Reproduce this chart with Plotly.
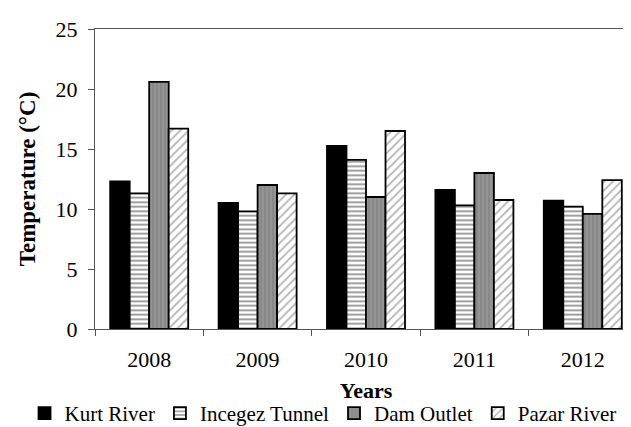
import plotly.graph_objects as go

years = ["2008", "2009", "2010", "2011", "2012"]
series_names = ["Kurt River", "Incegez Tunnel", "Dam Outlet", "Pazar River"]
kurt_river = [12.3, 10.5, 15.25, 11.6, 10.7]
incegez_tunnel = [11.3, 9.8, 14.1, 10.3, 10.2]
dam_outlet = [20.6, 12.0, 11.0, 13.0, 9.6]
pazar_river = [16.7, 11.3, 16.5, 10.75, 12.4]

FONT = "Liberation Serif"

styles = [
    dict(color="black", pattern=dict(shape="")),
    dict(color="white", pattern=dict(shape="-", fgcolor="#222", bgcolor="white", size=4.5, solidity=0.4)),
    dict(color="#8c8c8c", pattern=dict(shape="|", fgcolor="#6e6e6e", bgcolor="#949494", size=4, solidity=0.3)),
    dict(color="white", pattern=dict(shape="/", fgcolor="#666", bgcolor="white", size=6, solidity=0.3)),
]
values = [kurt_river, incegez_tunnel, dam_outlet, pazar_river]

fig = go.Figure()
for name, vals, m in zip(series_names, values, styles):
    fig.add_trace(go.Bar(
        x=years, y=vals, name=name,
        marker=dict(color=m["color"], pattern=m["pattern"], line=dict(color="black", width=1.8)),
    ))

fig.update_layout(
    width=631, height=427,
    margin=dict(l=87, r=2, t=21, b=105),
    plot_bgcolor="white", paper_bgcolor="white",
    barmode="group", bargap=0.28, bargroupgap=0,
    font=dict(family=FONT, size=22, color="black"),
    showlegend=True,
    legend=dict(orientation="h", x=-0.13, xanchor="left", y=-0.3455, yanchor="bottom",
                font=dict(family=FONT, size=21, color="black"),
                itemwidth=30, tracegroupgap=0, traceorder="normal",
                bgcolor="rgba(0,0,0,0)", borderwidth=0),
    xaxis=dict(
        title=dict(text="<b>Years</b>", font=dict(family=FONT, size=22, color="black"), standoff=12),
        showline=True, linecolor="#555", linewidth=1.2, mirror=True,
        ticks="outside", tickson="boundaries", ticklen=6, tickcolor="#555",
        tickfont=dict(family=FONT, size=22, color="black"),
        ticklabelstandoff=10,
        automargin=False,
    ),
    yaxis=dict(
        title=dict(text="<b>Temperature (°C)</b>", font=dict(family=FONT, size=23, color="black"), standoff=13),
        range=[0, 25], dtick=5,
        showline=True, linecolor="#555", linewidth=1.2,
        ticks="outside", ticklen=6, tickcolor="#555",
        showgrid=False, zeroline=False,
        tickfont=dict(family=FONT, size=22, color="black"),
        ticklabelstandoff=6,
        automargin=False,
    ),
)

fig.write_html("out.html")
